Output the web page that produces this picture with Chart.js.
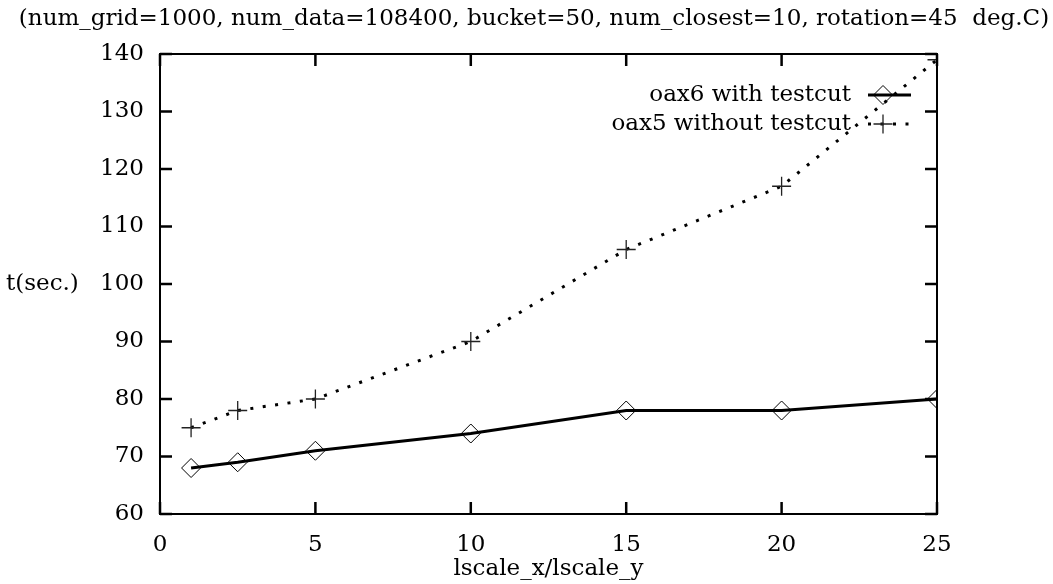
<!DOCTYPE html>
<html>
<head>
<meta charset="utf-8">
<script src="https://cdn.jsdelivr.net/npm/chart.js@4/dist/chart.umd.min.js"></script>
<style>
  html, body { margin: 0; padding: 0; background: #fff; }
  #wrap { width: 1053px; height: 584px; }
</style>
</head>
<body>
<div id="wrap"><canvas id="c" width="1053" height="584"></canvas></div>
<script>
// Timing results vs. lscale ratio
const lscale = [1, 2.5, 5, 10, 15, 20, 25];
const withTestcut = [68, 69, 71, 74, 78, 78, 80];
const withoutTestcut = [75, 78, 80, 90, 106, 117, 139];
const seriesLabels = ['oax6 with testcut', 'oax5 without testcut'];
const xTicks = [0, 5, 10, 15, 20, 25];
const yTicks = [60, 70, 80, 90, 100, 110, 120, 130, 140];
const titleText = '(num_grid=1000, num_data=108400, bucket=50, num_closest=10, rotation=45  deg.C)';
const xTitle = 'lscale_x/lscale_y';
const yTitle = 't(sec.)';

const FONT = 'DejaVu Serif';
const FSIZE = 23;

function pts(xs, ys) { return xs.map((x, i) => ({ x: x, y: ys[i] })); }

// inward tick marks on all four sides, plus frame, titles and key
const decor = {
  id: 'decor',
  afterDatasetsDraw(chart) {
    const ctx = chart.ctx;
    const a = chart.chartArea;
    const xs = chart.scales.x, ys = chart.scales.y;
    const L = 12;
    ctx.save();
    ctx.strokeStyle = '#000';
    ctx.lineWidth = 2.5;
    ctx.lineCap = 'butt';
    ctx.beginPath();
    xTicks.forEach(v => {
      const px = xs.getPixelForValue(v);
      ctx.moveTo(px, a.bottom); ctx.lineTo(px, a.bottom - L);
      ctx.moveTo(px, a.top); ctx.lineTo(px, a.top + L);
    });
    yTicks.forEach(v => {
      const py = ys.getPixelForValue(v);
      ctx.moveTo(a.left, py); ctx.lineTo(a.left + L, py);
      ctx.moveTo(a.right, py); ctx.lineTo(a.right - L, py);
    });
    ctx.stroke();
    ctx.lineWidth = 2;
    ctx.strokeRect(a.left, a.top, a.right - a.left, a.bottom - a.top);

    // texts
    ctx.fillStyle = '#000';
    ctx.font = FSIZE + 'px "' + FONT + '"';
    ctx.textBaseline = 'middle';
    ctx.textAlign = 'center';
    ctx.fillText(titleText, 534, 19);
    ctx.fillText(xTitle, (a.left + a.right) / 2, 569);
    ctx.textAlign = 'left';
    ctx.fillText(yTitle, 6, ys.getPixelForValue(100));

    // key
    const rows = [95, 124];
    const mx = 883;
    chart.data.datasets.forEach((ds, i) => {
      const y = rows[i];
      ctx.textAlign = 'right';
      ctx.fillStyle = '#000';
      ctx.fillText(ds.label, 851, y);
      ctx.save();
      ctx.strokeStyle = ds.borderColor;
      ctx.lineWidth = ds.borderWidth;
      ctx.setLineDash(ds.borderDash || []);
      ctx.beginPath();
      ctx.moveTo(868, y); ctx.lineTo(911, y);
      ctx.stroke();
      ctx.restore();
      ctx.save();
      ctx.lineWidth = ds.pointBorderWidth;
      ctx.strokeStyle = ds.pointBorderColor;
      ctx.fillStyle = '#fff';
      ctx.beginPath();
      const r = ds.pointRadius;
      if (ds.pointStyle === 'rectRot') {
        ctx.moveTo(mx - r, y); ctx.lineTo(mx, y - r); ctx.lineTo(mx + r, y); ctx.lineTo(mx, y + r); ctx.closePath();
      } else {
        ctx.moveTo(mx - r, y); ctx.lineTo(mx + r, y); ctx.moveTo(mx, y - r); ctx.lineTo(mx, y + r);
      }
      ctx.stroke();
      ctx.restore();
    });
    ctx.restore();
  }
};

new Chart(document.getElementById('c'), {
  type: 'line',
  data: {
    datasets: [
      {
        label: seriesLabels[0],
        data: pts(lscale, withTestcut),
        borderColor: '#000',
        borderWidth: 3,
        pointStyle: 'rectRot',
        pointRadius: 9.5,
        pointBorderWidth: 1,
        pointBorderColor: '#000',
        pointBackgroundColor: 'rgba(255,255,255,0)',
        tension: 0
      },
      {
        label: seriesLabels[1],
        data: pts(lscale, withoutTestcut),
        borderColor: '#000',
        borderWidth: 3,
        borderDash: [3, 9.5],
        borderCapStyle: 'butt',
        pointStyle: 'cross',
        pointRadius: 9.5,
        pointBorderWidth: 1.3,
        pointBorderColor: '#222',
        pointBackgroundColor: 'rgba(255,255,255,0)',
        tension: 0
      }
    ]
  },
  options: {
    responsive: false,
    animation: false,
    devicePixelRatio: 1,
    layout: { padding: { top: 54, right: 116, bottom: 0, left: 0 } },
    plugins: { legend: { display: false }, title: { display: false }, tooltip: { enabled: false } },
    scales: {
      x: {
        type: 'linear', min: 0, max: 25,
        afterBuildTicks(s) { s.ticks = xTicks.map(v => ({ value: v })); },
        afterFit(s) { s.height = 70; },
        ticks: { color: '#000', font: { family: FONT, size: FSIZE }, padding: 17, maxRotation: 0 },
        grid: { display: true, drawOnChartArea: false, drawTicks: false },
        border: { display: true, color: '#000', width: 2 }
      },
      y: {
        type: 'linear', min: 60, max: 140,
        afterBuildTicks(s) { s.ticks = yTicks.map(v => ({ value: v })); },
        afterFit(s) { s.width = 160; },
        ticks: { color: '#000', font: { family: FONT, size: FSIZE }, padding: 16 },
        grid: { display: true, drawOnChartArea: false, drawTicks: false },
        border: { display: true, color: '#000', width: 2 }
      }
    }
  },
  plugins: [decor]
});
</script>
</body>
</html>
